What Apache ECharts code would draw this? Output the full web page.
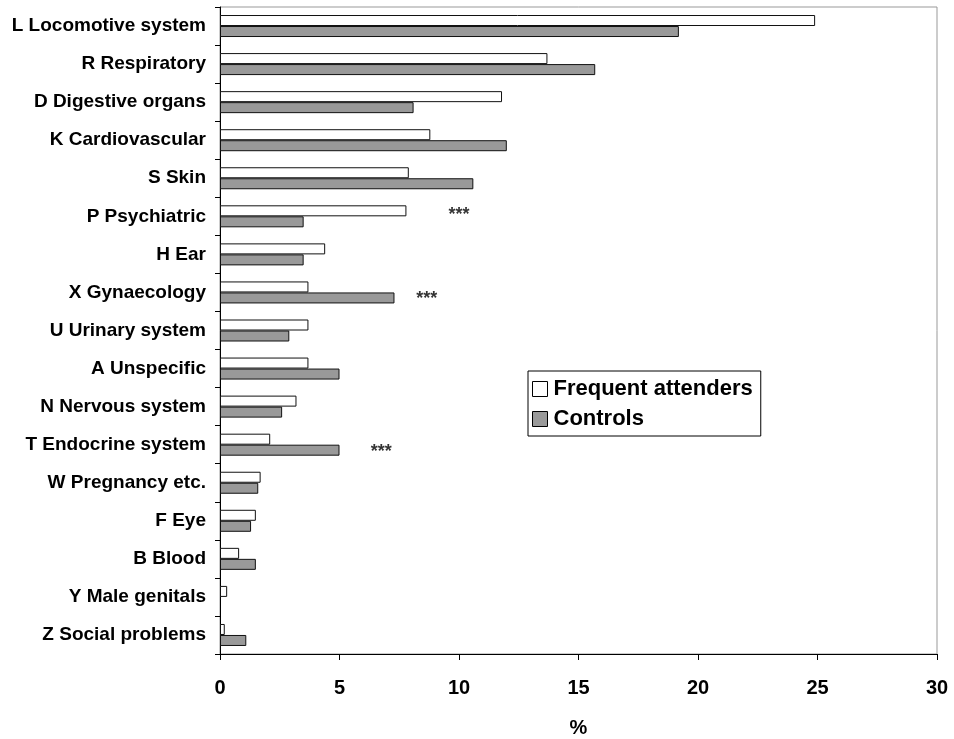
<!DOCTYPE html>
<html>
<head>
    <meta charset="utf-8">
    <title>Frequent attenders vs controls</title>
    <script src="https://cdn.jsdelivr.net/npm/echarts@6/dist/echarts.min.js"></script>
    <style>
        body { margin: 0; background: #fff; }
        #chart { width: 954px; height: 739px; }
    </style>
</head>
<body>
    <div id="chart"></div>
    <script>
        // categories, top to bottom
        const categories = [
            'L Locomotive system', 'R Respiratory', 'D Digestive organs', 'K Cardiovascular',
            'S Skin', 'P Psychiatric', 'H Ear', 'X Gynaecology', 'U Urinary system',
            'A Unspecific', 'N Nervous system', 'T Endocrine system', 'W Pregnancy etc.',
            'F Eye', 'B Blood', 'Y Male genitals', 'Z Social problems'
        ];
        const frequentAttenders = [24.9, 13.7, 11.8, 8.8, 7.9, 7.8, 4.4, 3.7, 3.7, 3.7, 3.2, 2.1, 1.7, 1.5, 0.8, 0.3, 0.2];
        // no controls bar is drawn for Y Male genitals
        const controls = [19.2, 15.7, 8.1, 12.0, 10.6, 3.5, 3.5, 7.3, 2.9, 5.0, 2.6, 5.0, 1.6, 1.3, 1.5, null, 1.1];

        // significance markers (***): [x value, category]
        const sigOnAttenders = [[10.0, 'P Psychiatric']];
        const sigOnControls = [[8.65, 'X Gynaecology'], [6.75, 'T Endocrine system']];

        const xTicks = [0, 5, 10, 15, 20, 25, 30];

        const font = '"Liberation Sans", Arial, sans-serif';
        const chart = echarts.init(document.getElementById('chart'));

        const sigLabel = {
            show: true,
            formatter: '***',
            position: 'inside',
            color: '#000',
            fontFamily: font,
            fontWeight: 'bold',
            fontSize: 18
        };

        chart.setOption({
            animation: false,
            textStyle: { fontFamily: font },
            grid: {
                left: 220, right: 17, top: 7, bottom: 85,
                outerBoundsMode: 'none',
                containLabel: false,
                show: true, borderColor: '#999', borderWidth: 1
            },
            legend: {
                data: ['Frequent attenders', 'Controls'],
                orient: 'vertical',
                left: 528,
                top: 371,
                padding: [7, 8, 6, 4],
                icon: 'rect',
                itemWidth: 15,
                itemHeight: 15,
                itemGap: 8,
                borderColor: '#000',
                borderWidth: 1,
                itemStyle: { borderColor: '#000', borderWidth: 1 },
                textStyle: { fontFamily: font, fontWeight: 'bold', fontSize: 22, color: '#000', padding: [0, 0, 0, 1] }
            },
            xAxis: {
                type: 'value',
                min: xTicks[0],
                max: xTicks[xTicks.length - 1],
                interval: 5,
                name: '%',
                nameLocation: 'middle',
                nameGap: 64,
                nameTextStyle: { fontFamily: font, fontWeight: 'bold', fontSize: 20, color: '#000' },
                axisLine: { show: true, lineStyle: { color: '#000', width: 1 } },
                axisTick: { show: true, length: 6, lineStyle: { color: '#000' } },
                axisLabel: { margin: 24, fontFamily: font, fontWeight: 'bold', fontSize: 20, color: '#000' },
                splitLine: { show: false }
            },
            yAxis: {
                type: 'category',
                data: categories,
                inverse: true,
                axisLine: { show: true, lineStyle: { color: '#000', width: 1 } },
                axisTick: { show: true, length: 5, lineStyle: { color: '#000' } },
                axisLabel: { margin: 14, fontFamily: font, fontWeight: 'bold', fontSize: 19, color: '#000' }
            },
            series: [
                {
                    name: 'Frequent attenders',
                    type: 'bar',
                    data: frequentAttenders,
                    barWidth: 11,
                    barGap: '0%',
                    itemStyle: { color: '#ffffff', borderColor: '#111', borderWidth: 1 }
                },
                {
                    name: 'Controls',
                    type: 'bar',
                    data: controls,
                    barWidth: 11,
                    barGap: '0%',
                    itemStyle: { color: '#999999', borderColor: '#111', borderWidth: 1 }
                },
                {
                    type: 'scatter',
                    symbolSize: 1,
                    itemStyle: { color: 'rgba(0,0,0,0)' },
                    data: sigOnAttenders,
                    label: Object.assign({ offset: [0, -1] }, sigLabel)
                },
                {
                    type: 'scatter',
                    symbolSize: 1,
                    itemStyle: { color: 'rgba(0,0,0,0)' },
                    data: sigOnControls,
                    label: Object.assign({ offset: [0, 7] }, sigLabel)
                }
            ]
        });
    </script>
</body>
</html>
